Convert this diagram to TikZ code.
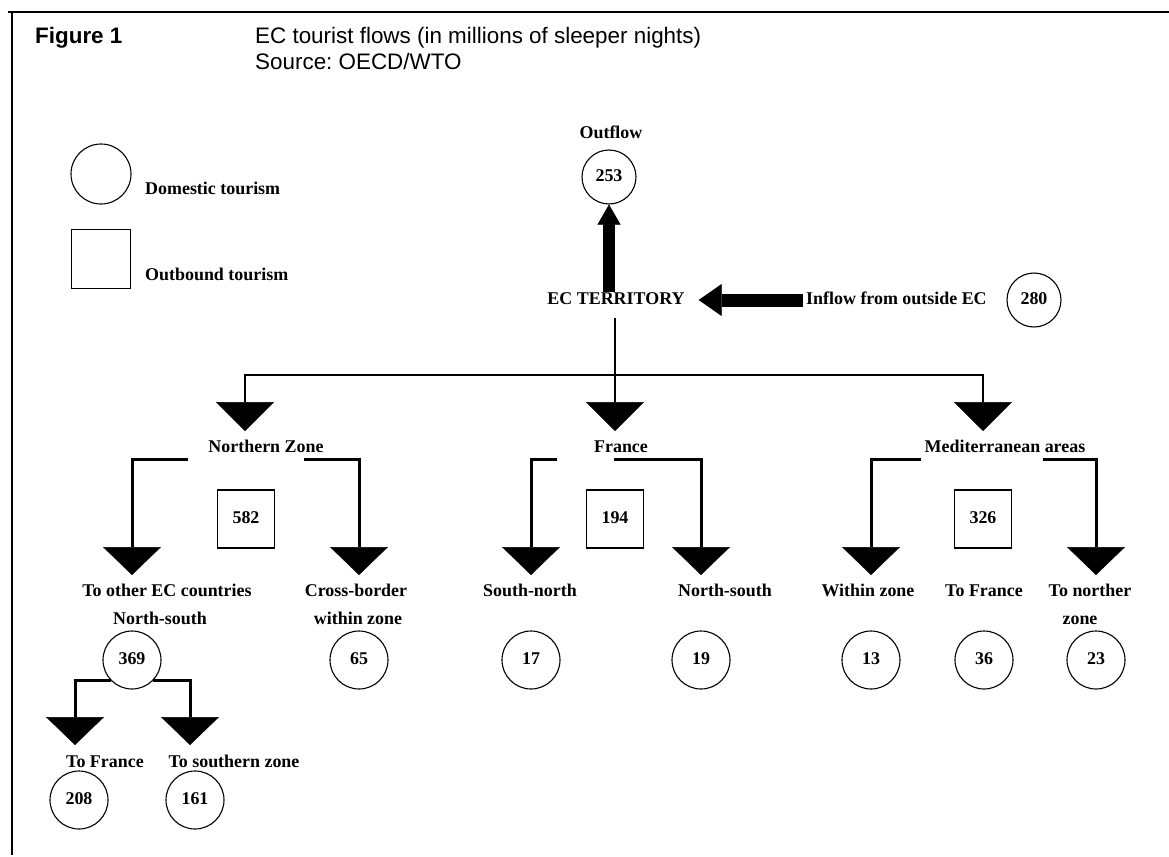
\documentclass[tikz,border=0pt]{standalone}
\usepackage{fontspec}
\setmainfont{Liberation Serif}
\newfontfamily\sansfont{Liberation Sans}
\usetikzlibrary{arrows.meta}
\frenchspacing
\begin{document}
\begin{tikzpicture}[x=1bp,y=-1bp,
  lbl/.style={font=\fontsize{18}{20}\selectfont\bfseries, inner sep=0pt, text height=12bp, text depth=3.5bp},
  ttl/.style={font=\sansfont\fontsize{22.5}{25}\selectfont, inner sep=0pt},
  ttlb/.style={font=\sansfont\bfseries\fontsize{22.5}{25}\selectfont, inner sep=0pt},
  circ/.style={lbl, draw, circle, line width=1.1bp, minimum size=58bp},
  sq/.style={lbl, draw, rectangle, line width=1.1bp, minimum width=57bp, minimum height=58bp},
  trunk/.style={line width=2.2bp, -{Triangle[width=58bp,length=29bp,line width=0.5bp]}},
  branch/.style={line width=3bp, -{Triangle[width=58bp,length=28bp,line width=0.5bp]}},
  fatup/.style={line width=12bp, -{Triangle[width=23bp,length=20bp,line width=0.5bp]}},
  fatleft/.style={line width=13bp, -{Triangle[width=32bp,length=23bp,line width=0.5bp]}},
  thinline/.style={line width=1.3bp},
  frameline/.style={line width=2.5bp}
]
\useasboundingbox (0,0) rectangle (1169,857);
\fill[white] (0,0) rectangle (1169,857);

% frame
\draw[frameline] (8,12) -- (1169,12);
\draw[frameline] (12,11) -- (12,855);

% title
\node[ttlb, anchor=base west] (fig) at (35,43) {Figure 1};
\node[ttl, anchor=base west] (title) at (255,43) {EC tourist flows (in millions of sleeper nights)};
\node[ttl, anchor=base west] (src) at (255,69) {Source: OECD/WTO};

% legend
\node[circ, minimum size=60bp] (legc) at (101,174) {};
\node[lbl, anchor=west] (legct) at (145,190) {Domestic tourism};
\node[sq, minimum width=59bp, minimum height=59bp] (legs) at (101,259) {};
\node[lbl, anchor=west] (legst) at (145,276) {Outbound tourism};

% top
\node[lbl] (outlbl) at (611,134) {Outflow};
\node[circ, minimum size=54bp] (c253) at (609,177) {253};
\node[lbl] (ec) at (616,300) {EC TERRITORY};
\node[lbl, anchor=west] (inlbl) at (806,300) {Inflow from outside EC};
\node[circ, minimum size=54bp] (c280) at (1034,300) {280};

\draw[fatup] (ec.north -| c253.south) -- (c253.south);
\draw[fatleft, shorten <=3bp, shorten >=14bp] (inlbl.west) -- (ec.east);

% trunk
\coordinate (split) at (615,375);
\coordinate (nzt) at (245,431);
\coordinate (frt) at (615,431);
\coordinate (met) at (983,431);
\draw[thinline, shorten <=10bp] (ec.south -| split) -- (split);
\draw[trunk] (split) -| (nzt);
\draw[trunk] (split) -- (frt);
\draw[trunk] (split) -| (met);

% zone labels and boxes
\node[lbl] (nz) at (266,448) {Northern Zone};
\node[lbl] (fr) at (621,448) {France};
\node[lbl] (me) at (1005,448) {Mediterranean areas};
\node[sq] (b582) at (246,519) {582};
\node[sq] (b194) at (615,519) {194};
\node[sq] (b326) at (983,519) {326};

% branch tips
\coordinate (t1) at (132,575);
\coordinate (t2) at (359,575);
\coordinate (t3) at (531,575);
\coordinate (t4) at (701,575);
\coordinate (t5) at (871,575);
\coordinate (t7) at (1096,575);

\draw[branch] ([shift={(-20bp,-4bp)}]nz.south west) -| (t1);
\draw[branch] ([shift={(-20bp,-4bp)}]nz.south east) -| (t2);
\draw[branch] ([shift={(-37bp,-4bp)}]fr.south west) -| (t3);
\draw[branch] ([shift={(20bp,-4bp)}]fr.south west) -| (t4);
\draw[branch] ([shift={(-4bp,-4bp)}]me.south west) -| (t5);
\draw[branch] ([shift={(-42bp,-4bp)}]me.south east) -| (t7);

% sub labels
\node[lbl] (l1) at (167,592) {To other EC countries};
\node[lbl] (l1b) at (160,620) {North-south};
\node[lbl] (l2) at (356,592) {Cross-border};
\node[lbl] (l2b) at (358,620) {within zone};
\node[lbl] (l3) at (530,592) {South-north};
\node[lbl] (l4) at (725,592) {North-south};
\node[lbl] (l5) at (868,592) {Within zone};
\node[lbl] (l6) at (984,592) {To France};
\node[lbl] (l7) at (1090,592) {To norther};
\node[lbl] (l7b) at (1080,620) {zone};

% circles
\node[circ] (c369) at (132,660) {369};
\node[circ] (c65) at (359,660) {65};
\node[circ] (c17) at (531,660) {17};
\node[circ] (c19) at (701,660) {19};
\node[circ] (c13) at (871,660) {13};
\node[circ] (c36) at (984,660) {36};
\node[circ] (c23) at (1096,660) {23};

% second level
\coordinate (t208) at (75,745);
\coordinate (t161) at (190,745);
\draw[branch] (c369.south west) -| (t208);
\draw[branch] (c369.south east) -| (t161);
\node[lbl] (l8) at (105,763) {To France};
\node[lbl] (l9) at (234,763) {To southern zone};
\node[circ] (c208) at (79,800) {208};
\node[circ] (c161) at (195,800) {161};
\end{tikzpicture}
\end{document}
